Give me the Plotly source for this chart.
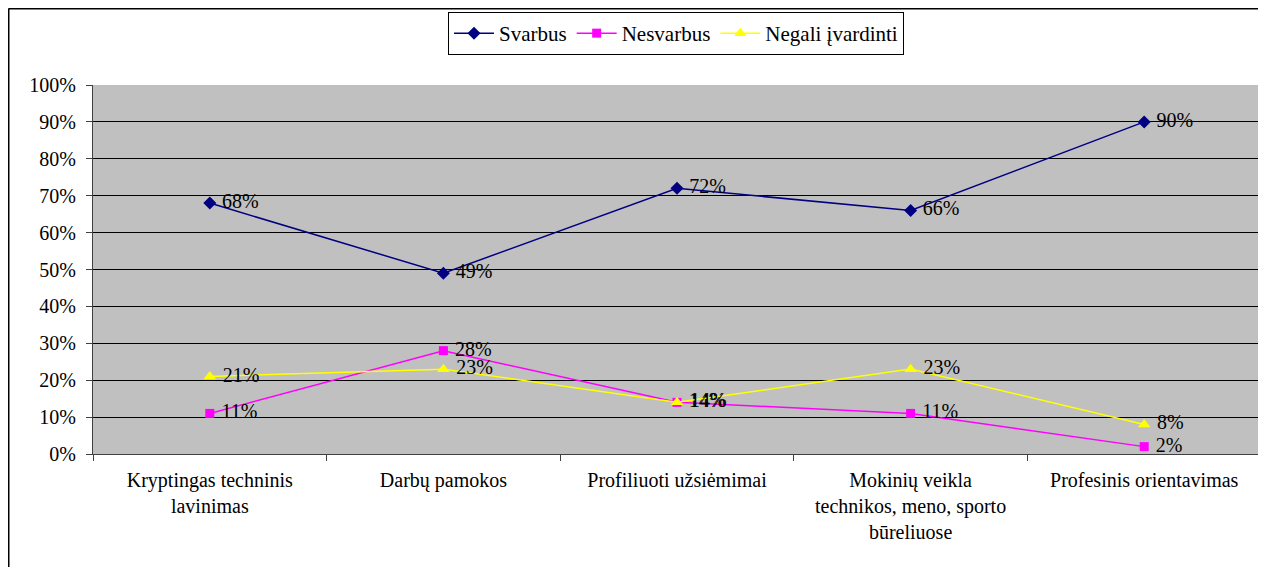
import plotly.graph_objects as go

categories = [
    "Kryptingas techninis<br>lavinimas",
    "Darbų pamokos",
    "Profiliuoti užsiėmimai",
    "Mokinių veikla<br>technikos, meno, sporto<br>būreliuose",
    "Profesinis orientavimas",
]
series_names = ["Svarbus", "Nesvarbus", "Negali įvardinti"]
svarbus = [0.68, 0.49, 0.72, 0.66, 0.90]
nesvarbus = [0.11, 0.28, 0.14, 0.11, 0.02]
negali = [0.21, 0.23, 0.14, 0.23, 0.08]
y_ticks = [0, 0.1, 0.2, 0.3, 0.4, 0.5, 0.6, 0.7, 0.8, 0.9, 1.0]

FONT = "Liberation Serif, serif"

styles = [
    dict(color="#000080", symbol="diamond", size=10),
    dict(color="#FF00FF", symbol="square", size=9),
    dict(color="#FFFF00", symbol="triangle-up", size=11),
]

fig = go.Figure()
for name, vals, st in zip(series_names, [svarbus, nesvarbus, negali], styles):
    fig.add_trace(go.Scatter(
        x=categories, y=vals, name=name,
        mode="lines+markers+text",
        line=dict(color=st["color"], width=1.5),
        marker=dict(color=st["color"], symbol=st["symbol"], size=st["size"]),
        text=[f" {round(v*100)}%" for v in vals],
        textposition="middle right",
        textfont=dict(family=FONT, size=20, color="black"),
        cliponaxis=False,
    ))

# page body has an 8px margin: screen px = figure px + 8
OFF = 8
W, H = 1266 - OFF, 567 - OFF
L, R, T, B = 93 - OFF, 1261 - OFF, 85 - OFF, 454 - OFF

def px(x):
    return (x - OFF - L) / (R - L)

def py(y):
    return (B - (y - OFF)) / (B - T)

fig.update_layout(
    width=W, height=H,
    margin=dict(l=L, r=W - R, t=T, b=H - B, pad=0, autoexpand=False),
    paper_bgcolor="white",
    plot_bgcolor="#C0C0C0",
    font=dict(family=FONT, size=20, color="black"),
    showlegend=True,
    legend=dict(
        orientation="h", x=px(676), y=py(12), xanchor="center", yanchor="top",
        bgcolor="white", bordercolor="black", borderwidth=1,
        font=dict(family=FONT, size=21, color="black"),
        itemwidth=40, tracegroupgap=0,
    ),
    xaxis=dict(
        type="category", range=[-0.5, 4.5],
        showgrid=False, showline=True, linecolor="#404040", linewidth=1,
        ticks="outside", tickson="boundaries", ticklen=6, tickcolor="#404040",
        tickfont=dict(family=FONT, size=20, color="black"),
        ticklabelstandoff=8,
        fixedrange=True,
    ),
    yaxis=dict(
        range=[0, 1], tickvals=y_ticks, tickformat=".0%",
        showgrid=True, gridcolor="#000000", gridwidth=1,
        showline=True, linecolor="#404040", linewidth=1, mirror=True,
        ticks="outside", ticklen=6, tickcolor="#404040",
        tickfont=dict(family=FONT, size=20, color="black"),
        ticklabelstandoff=6,
        zeroline=False,
    ),
    shapes=[
        dict(type="line", xref="paper", yref="paper",
             x0=px(8.5), x1=px(1275), y0=py(8.5), y1=py(8.5),
             line=dict(color="black", width=2)),
        dict(type="line", xref="paper", yref="paper",
             x0=px(8.5), x1=px(8.5), y0=py(8.5), y1=py(580),
             line=dict(color="black", width=2)),
    ],
)

fig.write_html("out.html")
